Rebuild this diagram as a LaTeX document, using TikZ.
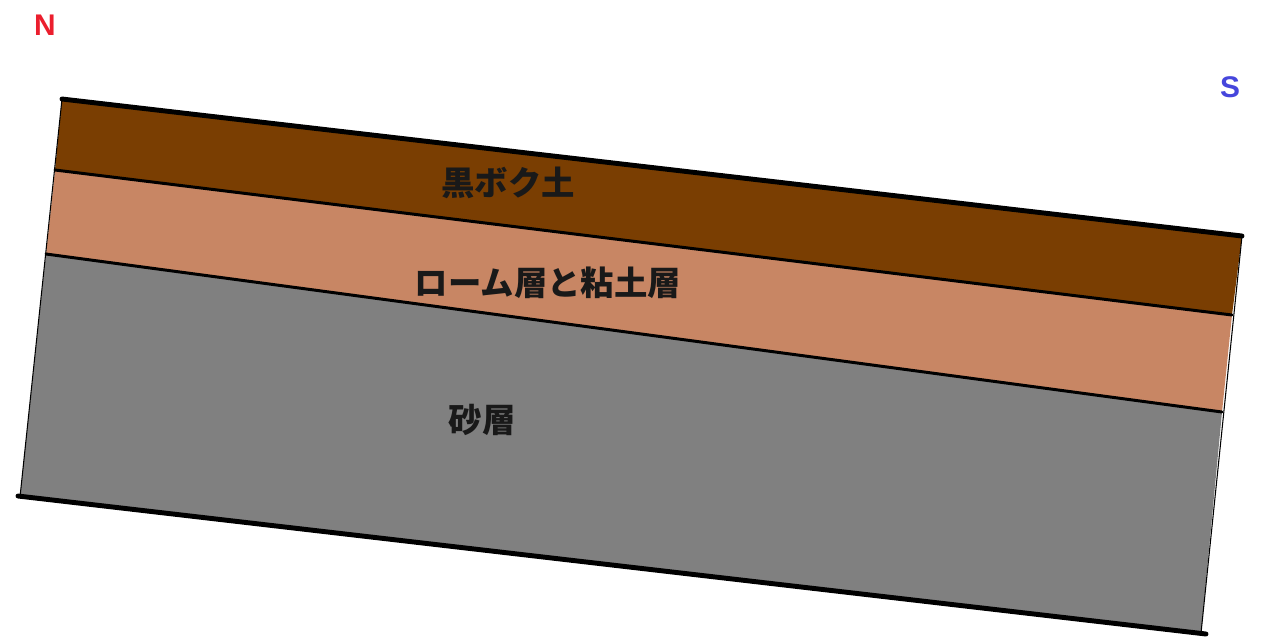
\documentclass[tikz,border=0pt]{standalone}
\usepackage{fontspec}
\newfontfamily\cjk{Noto Sans CJK JP}
\setsansfont{Liberation Sans}
\usetikzlibrary{calc}
\definecolor{kuroboku}{RGB}{122,62,2}
\definecolor{loam}{RGB}{200,134,100}
\definecolor{sand}{RGB}{128,128,128}
\definecolor{northred}{RGB}{235,30,45}
\definecolor{southblue}{RGB}{70,70,220}
\tikzset{
	layername/.style={font=\cjk\bfseries\fontsize{19}{19}\selectfont, text=black!90},
	compass/.style={font=\sffamily\bfseries\fontsize{17}{17}\selectfont},
	boundary/.style={line width=1.7pt, line cap=round},
	surface/.style={line width=2.8pt, line cap=round},
}

\begin{document}
\begin{tikzpicture}[x=0.02cm, y=-0.02cm]
			%%%%% START %%%%%
			\useasboundingbox (0, 0) rectangle (1261, 637);
			
			% corners of the section, north on the left
			\coordinate (tl) at (62, 99);
			\coordinate (tr) at (1242, 236);
			\coordinate (l1) at (55, 170);
			\coordinate (r1) at (1232, 315);
			\coordinate (l2) at (46, 254);
			\coordinate (r2) at (1222, 412);
			\coordinate (bl) at (20, 497);
			\coordinate (br) at (1201, 633);
			
			% layers
			\fill[kuroboku] (tl) -- (tr) -- (r1) -- (l1) -- cycle;
			\fill[loam] (l1) -- (r1) -- (r2) -- (l2) -- cycle;
			\fill[sand] (l2) -- (r2) -- (br) -- (bl) -- cycle;
			
			% side edges
			\draw[line width=0.6pt] (tl) -- (bl);
			\draw[line width=0.6pt] (tr) -- (br);
			
			% boundaries
			\draw[surface] (tl) -- (tr);
			\draw[boundary] (l1) -- (r1);
			\draw[boundary] (l2) -- (r2);
			\draw[surface] ($(bl)+(-2,-1)$) -- ($(br)+(5,1)$);
			
			\node[layername] (kuro) at (508, 183) {黒ボク土};
			\node[layername] (loamclay) at (548, 283) {ローム層と粘土層};
			\node[layername] (sandlayer) at (482, 420) {砂層};
			
			\node[compass, text=northred] (north) at (45, 25) {N};
			\node[compass, text=southblue] (south) at (1230, 87) {S};
			%%%%% END %%%%%
\end{tikzpicture}
\end{document}
